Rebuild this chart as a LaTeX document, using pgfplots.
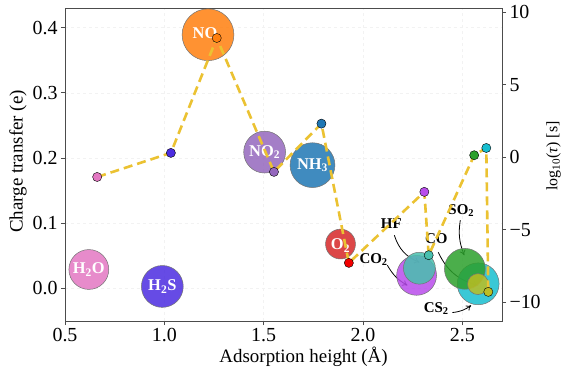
\documentclass[border=0pt]{standalone}
\usepackage{pgfplots}
\pgfplotsset{compat=1.18}
\usepackage{fontspec}
\setmainfont{Liberation Serif}
\usetikzlibrary{arrows.meta}
\definecolor{cH2O}{HTML}{E377C2}
\definecolor{cH2S}{HTML}{4B2CE0}
\definecolor{cNO}{HTML}{FF7F0E}
\definecolor{cNOt}{HTML}{9467BD}
\definecolor{cNH}{HTML}{1F77B4}
\definecolor{cOt}{HTML}{D62728}
\definecolor{cCOt}{HTML}{B84CEB}
\definecolor{cHF}{HTML}{48BFAE}
\definecolor{cSO}{HTML}{2CA02C}
\definecolor{cCS}{HTML}{17BECF}
\definecolor{cCO}{HTML}{BCBD22}
\definecolor{cLine}{HTML}{EBC232}
\begin{document}
\begin{tikzpicture}[
  lab/.style={font=\bfseries\fontsize{16.5}{16.5}\selectfont, text=white},
  olab/.style={font=\bfseries\fontsize{15}{15}\selectfont, text=black},
  arr/.style={-{To[length=5bp,width=6bp]}, line width=0.8pt, black},
  bub/.style={only marks, mark=*, mark options={fill=#1, fill opacity=0.85, draw=black!55, line width=0.5pt}}
]
\begin{axis}[
  at={(0,0)}, anchor=south west,
  scale only axis, width=437bp, height=313bp,
  xmin=0.5, xmax=2.7, ymin=-0.05, ymax=0.43,
  xtick={0.5,1.0,1.5,2.0,2.5}, xticklabels={0.5,1.0,1.5,2.0,2.5},
  ytick={0,0.1,0.2,0.3,0.4}, yticklabels={0.0,0.1,0.2,0.3,0.4},
  tick pos=left, tick align=outside, major tick length=4bp,
  tick label style={font=\fontsize{20}{22}\selectfont},
  grid=major, grid style={dashed, black!5, line width=0.5pt},
  axis line style={black!70, line width=0.8pt},
  tick style={black!70, line width=0.8pt},
  xlabel={Adsorption height (Å)}, ylabel={Charge transfer (e)},
  label style={font=\fontsize{19}{21}\selectfont},
  xlabel style={at={(axis description cs:0.546,-0.115)}, anchor=center},
  ylabel style={at={(axis description cs:-0.1075,0.51)}, anchor=center},
]
\addplot[bub=cH2O, mark size=20pt] coordinates {(0.62,0.029)};
\addplot[bub=cH2S, mark size=21pt] coordinates {(0.99,0.003)};
\addplot[bub=cNO, mark size=26pt] coordinates {(1.22,0.389)};
\addplot[bub=cNOt, mark size=21pt] coordinates {(1.505,0.209)};
\addplot[bub=cNH, mark size=22.5pt] coordinates {(1.746,0.189)};
\addplot[bub=cOt, mark size=15pt] coordinates {(1.887,0.068)};
\addplot[bub=cCOt, mark size=20pt] coordinates {(2.27,0.020)};
\addplot[bub=cHF, mark size=16pt] coordinates {(2.284,0.031)};
\addplot[bub=cCS, mark size=21pt] coordinates {(2.58,0.007)};
\addplot[bub=cSO, mark size=20.5pt] coordinates {(2.513,0.030)};
\addplot[bub=cCO, mark size=10.5pt] coordinates {(2.579,0.0066)};
\coordinate (pH2O) at (axis cs:0.62,0.029);
\coordinate (pH2S) at (axis cs:0.99,0.003);
\coordinate (pNO) at (axis cs:1.205,0.392);
\coordinate (pNOt) at (axis cs:1.505,0.209);
\coordinate (pNH) at (axis cs:1.746,0.189);
\coordinate (pOt) at (axis cs:1.887,0.066);
\node[olab, anchor=west] at (axis cs:1.965,0.044) {CO\textsubscript{2}};
\node[olab] at (axis cs:2.143,0.100) {HF};
\node[olab] at (axis cs:2.495,0.120) {SO\textsubscript{2}};
\node[olab] at (axis cs:2.369,0.077) {CO};
\node[olab] at (axis cs:2.369,-0.031) {CS\textsubscript{2}};
\draw[arr] (axis cs:2.158,0.0815) to[bend right=25] (axis cs:2.284,0.040);
\draw[arr] (axis cs:2.123,0.0354) to[bend right=15] (axis cs:2.224,0.0046);
\draw[arr] (axis cs:2.490,0.1046) to[bend right=15] (axis cs:2.510,0.0508);
\draw[arr] (axis cs:2.379,0.0554) to[bend right=25] (axis cs:2.580,0.0046);
\draw[arr] (axis cs:2.450,-0.037) to[bend right=15] (axis cs:2.545,-0.026);
\end{axis}
\node[lab] at (pH2O) {H\textsubscript{2}O};
\node[lab] at (pH2S) {H\textsubscript{2}S};
\node[lab] at (pNO) {NO};
\node[lab] at (pNOt) {NO\textsubscript{2}};
\node[lab] at (pNH) {NH\textsubscript{3}};
\node[lab] at (pOt) {O\textsubscript{2}};
\begin{axis}[
  at={(0,0)}, anchor=south west,
  scale only axis, width=437bp, height=313bp,
  xmin=0.5, xmax=2.7, ymin=-11.3, ymax=10.3,
  axis x line=none, axis y line*=right,
  ytick={-10,-5,0,5,10}, yticklabels={−10,−5,0,5,10},
  tick align=outside, major tick length=4bp,
  tick label style={font=\fontsize{20}{22}\selectfont},
  axis line style={black!70, line width=0.8pt},
  tick style={black!70, line width=0.8pt},
  ylabel={log\textsubscript{10}(\textit{τ}) [s]},
  ylabel style={font=\fontsize{16}{18}\selectfont, at={(axis description cs:1.118,0.527)}, anchor=center},
]
\addplot[no marks, color=cLine, line width=2.6bp, dash pattern=on 9bp off 5bp] table {
x y
0.662 -1.36
1.033 0.30
1.264 8.23
1.552 -1.01
1.791 2.32
1.929 -7.29
2.309 -2.39
2.331 -6.76
2.560 0.14
2.621 0.64
2.631 -9.29
};
\addplot[only marks, scatter, scatter src=explicit symbolic, mark=*, mark size=4.6pt,
  scatter/classes={
    a={mark=*, fill=cH2O, draw=black},
    b={mark=*, fill=cH2S, draw=black},
    c={mark=*, fill=cNO, draw=black},
    d={mark=*, fill=cNOt, draw=black},
    e={mark=*, fill=cNH, draw=black},
    f={mark=*, fill=red!95!black, draw=black},
    g={mark=*, fill=cCOt, draw=black},
    h={mark=*, fill=cHF, draw=black},
    i={mark=*, fill=cSO, draw=black},
    j={mark=*, fill=cCS, draw=black},
    k={mark=*, fill=cCO, draw=black}}
] table[meta=c] {
x y c
0.662 -1.36 a
1.033 0.30 b
1.264 8.23 c
1.552 -1.01 d
1.791 2.32 e
1.929 -7.29 f
2.309 -2.39 g
2.331 -6.76 h
2.560 0.14 i
2.621 0.64 j
2.631 -9.29 k
};
\end{axis}
\pgfresetboundingbox
\path[use as bounding box] (-65bp,-49bp) rectangle (498bp,321bp);
\end{tikzpicture}
\end{document}
